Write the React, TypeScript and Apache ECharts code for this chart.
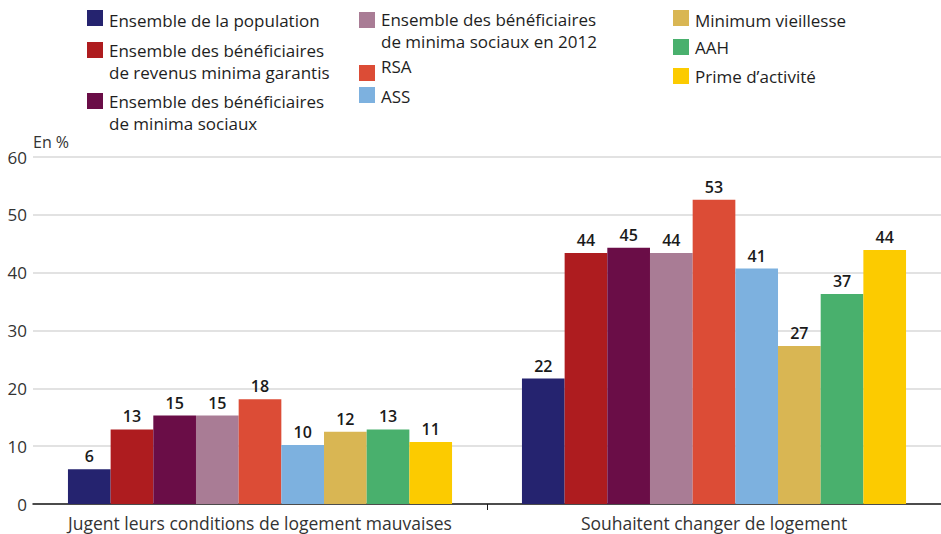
import React, { useEffect, useRef } from "react";
import * as echarts from "echarts";

const categories = [
  "Jugent leurs conditions de logement mauvaises",
  "Souhaitent changer de logement",
];

const seriesNames = [
  "Ensemble de la population",
  "Ensemble des bénéficiaires\nde revenus minima garantis",
  "Ensemble des bénéficiaires\nde minima sociaux",
  "Ensemble des bénéficiaires\nde minima sociaux en 2012",
  "RSA",
  "ASS",
  "Minimum vieillesse",
  "AAH",
  "Prime d’activité",
];

const seriesColors = [
  "#25236f",
  "#ae1c1f",
  "#6a0d47",
  "#a97c95",
  "#dc4c36",
  "#7db1df",
  "#d9b653",
  "#49b06d",
  "#fccb00",
];

// Bar heights per category, in series order
const jugentValues = [6.0, 12.9, 15.3, 15.3, 18.1, 10.2, 12.5, 12.9, 10.7];
const souhaitentValues = [21.7, 43.4, 44.3, 43.4, 52.6, 40.7, 27.3, 36.3, 43.9];

// Printed value labels
const jugentLabels = ["6", "13", "15", "15", "18", "10", "12", "13", "11"];
const souhaitentLabels = ["22", "44", "45", "44", "53", "41", "27", "37", "44"];

const yTicks = [0, 10, 20, 30, 40, 50, 60];

const FONT = "'Open Sans', 'Noto Sans', sans-serif";

// legend layout: square top-left and first text-line center
const legendLayout = [
  { x: 87, y: 10, ty: 20 },
  { x: 87, y: 42, ty: 50 },
  { x: 87, y: 93, ty: 101 },
  { x: 359, y: 12, ty: 19 },
  { x: 359, y: 65, ty: 66 },
  { x: 359, y: 87, ty: 96 },
  { x: 673, y: 10, ty: 20 },
  { x: 673, y: 39, ty: 47 },
  { x: 673, y: 68, ty: 76 },
];

export default function App() {
  const ref = useRef<HTMLDivElement>(null);

  useEffect(() => {
    if (!ref.current) return;
    const chart = echarts.init(ref.current, undefined, { renderer: "svg" });

    const labelsByCat = [jugentLabels, souhaitentLabels];

    const series = seriesNames.map((name, i) => ({
      type: "bar" as const,
      name,
      xAxisIndex: 0,
      yAxisIndex: 0,
      barGap: "0%",
      barCategoryGap: "15.4%",
      data: [jugentValues[i], souhaitentValues[i]],
      itemStyle: { color: seriesColors[i] },
      label: {
        show: true,
        position: "top",
        distance: 5,
        fontFamily: FONT,
        fontSize: 16,
        fontWeight: 600,
        color: "#1a1a1a",
        formatter: (p: any) => labelsByCat[p.dataIndex][i],
      },
    }));

    const legendGraphics: any[] = [];
    seriesNames.forEach((name, i) => {
      const l = legendLayout[i];
      legendGraphics.push({
        type: "rect",
        shape: { x: l.x, y: l.y, width: 16, height: 16 },
        style: { fill: seriesColors[i] },
      });
      legendGraphics.push({
        type: "text",
        x: l.x + 22,
        y: l.ty - 11,
        style: {
          text: name,
          font: `17px ${FONT}`,
          lineHeight: 22,
          fill: "#1e1e1e",
          verticalAlign: "top",
          align: "left",
        },
      });
    });

    chart.setOption({
      animation: false,
      backgroundColor: "#ffffff",
      grid: { left: 33, right: 0, top: 157, bottom: 30, containLabel: false },
      graphic: legendGraphics,
      xAxis: [
        {
          type: "category",
          data: categories,
          position: "bottom",
          axisLine: { show: true, lineStyle: { color: "#1a1a1a", width: 1.5 } },
          axisTick: { show: false },
          axisLabel: {
            fontFamily: FONT,
            fontSize: 17.5,
            color: "#333333",
            margin: 10,
            interval: 0,
          },
        },
        {
          type: "value",
          position: "bottom",
          min: 0,
          max: 2,
          axisLine: { show: false },
          axisLabel: { show: false },
          splitLine: { show: false },
          axisTick: {
            show: true,
            customValues: [1],
            length: 6,
            lineStyle: { color: "#1a1a1a", width: 1 },
          },
        },
      ],
      yAxis: {
        type: "value",
        min: yTicks[0],
        max: yTicks[yTicks.length - 1],
        interval: 10,
        name: "En %",
        nameLocation: "end",
        nameGap: 15,
        nameTextStyle: {
          fontFamily: FONT,
          fontSize: 16,
          color: "#333333",
          align: "left",
          verticalAlign: "middle",
        },
        axisLine: { show: false },
        axisTick: { show: false },
        axisLabel: {
          fontFamily: FONT,
          fontSize: 17,
          color: "#333333",
          margin: 6,
        },
        splitLine: { lineStyle: { color: "#d9d9d9", width: 1.5 } },
      },
      series,
    });

    return () => chart.dispose();
  }, []);

  return (
    <div
      ref={ref}
      style={{ position: "fixed", left: 0, top: 0, width: 941, height: 534 }}
    />
  );
}
